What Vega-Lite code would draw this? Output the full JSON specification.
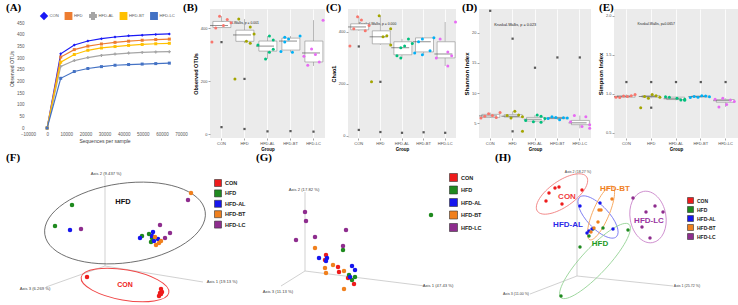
{
  "$schema": "https://vega.github.io/schema/vega-lite/v6.json",
  "padding": {"left": 3, "top": 2, "right": 0, "bottom": 0},
  "background": "#FFFFFF",
  "config": {
    "font": "Liberation Sans",
    "view": {"stroke": null},
    "title": {"font": "Liberation Serif", "fontSize": 11, "fontWeight": "bold", "anchor": "start", "frame": "group", "baseline": "middle", "offset": 0, "color": "#000000"},
    "legend": {"title": null}
  },
  "datasets": {
    "rare": [
      {"grp": "CON", "seq": 0, "otus": 0}, {"grp": "CON", "seq": 7100, "otus": 318}, {"grp": "CON", "seq": 14200, "otus": 356}, {"grp": "CON", "seq": 21300, "otus": 373}, {"grp": "CON", "seq": 28400, "otus": 383}, {"grp": "CON", "seq": 35500, "otus": 390}, {"grp": "CON", "seq": 42600, "otus": 395}, {"grp": "CON", "seq": 49700, "otus": 398}, {"grp": "CON", "seq": 56800, "otus": 401}, {"grp": "CON", "seq": 63900, "otus": 403},
      {"grp": "HFD", "seq": 0, "otus": 0}, {"grp": "HFD", "seq": 7100, "otus": 304}, {"grp": "HFD", "seq": 14200, "otus": 336}, {"grp": "HFD", "seq": 21300, "otus": 351}, {"grp": "HFD", "seq": 28400, "otus": 360}, {"grp": "HFD", "seq": 35500, "otus": 367}, {"grp": "HFD", "seq": 42600, "otus": 372}, {"grp": "HFD", "seq": 49700, "otus": 376}, {"grp": "HFD", "seq": 56800, "otus": 379}, {"grp": "HFD", "seq": 63900, "otus": 381},
      {"grp": "HFD-AL", "seq": 0, "otus": 0}, {"grp": "HFD-AL", "seq": 7100, "otus": 264}, {"grp": "HFD-AL", "seq": 14200, "otus": 289}, {"grp": "HFD-AL", "seq": 21300, "otus": 302}, {"grp": "HFD-AL", "seq": 28400, "otus": 311}, {"grp": "HFD-AL", "seq": 35500, "otus": 317}, {"grp": "HFD-AL", "seq": 42600, "otus": 321}, {"grp": "HFD-AL", "seq": 49700, "otus": 324}, {"grp": "HFD-AL", "seq": 56800, "otus": 326}, {"grp": "HFD-AL", "seq": 63900, "otus": 327},
      {"grp": "HFD-BT", "seq": 0, "otus": 0}, {"grp": "HFD-BT", "seq": 7100, "otus": 282}, {"grp": "HFD-BT", "seq": 14200, "otus": 315}, {"grp": "HFD-BT", "seq": 21300, "otus": 333}, {"grp": "HFD-BT", "seq": 28400, "otus": 343}, {"grp": "HFD-BT", "seq": 35500, "otus": 349}, {"grp": "HFD-BT", "seq": 42600, "otus": 354}, {"grp": "HFD-BT", "seq": 49700, "otus": 358}, {"grp": "HFD-BT", "seq": 56800, "otus": 361}, {"grp": "HFD-BT", "seq": 63900, "otus": 363},
      {"grp": "HFD-LC", "seq": 0, "otus": 0}, {"grp": "HFD-LC", "seq": 7100, "otus": 213}, {"grp": "HFD-LC", "seq": 14200, "otus": 242}, {"grp": "HFD-LC", "seq": 21300, "otus": 255}, {"grp": "HFD-LC", "seq": 28400, "otus": 263}, {"grp": "HFD-LC", "seq": 35500, "otus": 269}, {"grp": "HFD-LC", "seq": 42600, "otus": 272}, {"grp": "HFD-LC", "seq": 49700, "otus": 274}, {"grp": "HFD-LC", "seq": 56800, "otus": 276}, {"grp": "HFD-LC", "seq": 63900, "otus": 278}
    ],
    "box": [
      {"index": "OTU", "group": "CON", "lo": 400, "q1": 402, "med": 410, "q3": 425, "hi": 445},
      {"index": "OTU", "group": "HFD", "lo": 343, "q1": 350, "med": 374, "q3": 392, "hi": 434},
      {"index": "OTU", "group": "HFD-AL", "lo": 283, "q1": 313, "med": 332, "q3": 351, "hi": 370},
      {"index": "OTU", "group": "HFD-BT", "lo": 309, "q1": 317, "med": 351, "q3": 362, "hi": 370},
      {"index": "OTU", "group": "HFD-LC", "lo": 257, "q1": 272, "med": 306, "q3": 351, "hi": 430},
      {"index": "Chao1", "group": "CON", "lo": 404, "q1": 408, "med": 419, "q3": 431, "hi": 458},
      {"index": "Chao1", "group": "HFD", "lo": 350, "q1": 354, "med": 381, "q3": 404, "hi": 462},
      {"index": "Chao1", "group": "HFD-AL", "lo": 300, "q1": 312, "med": 339, "q3": 362, "hi": 373},
      {"index": "Chao1", "group": "HFD-BT", "lo": 312, "q1": 323, "med": 362, "q3": 377, "hi": 377},
      {"index": "Chao1", "group": "HFD-LC", "lo": 269, "q1": 300, "med": 315, "q3": 362, "hi": 438},
      {"index": "Shannon", "group": "CON", "lo": 5.9, "q1": 6.0, "med": 6.25, "q3": 6.5, "hi": 6.8},
      {"index": "Shannon", "group": "HFD", "lo": 5.9, "q1": 6.05, "med": 6.2, "q3": 6.45, "hi": 7.0},
      {"index": "Shannon", "group": "HFD-AL", "lo": 5.2, "q1": 5.4, "med": 5.7, "q3": 6.0, "hi": 6.4},
      {"index": "Shannon", "group": "HFD-BT", "lo": 5.6, "q1": 5.8, "med": 5.9, "q3": 6.0, "hi": 6.1},
      {"index": "Shannon", "group": "HFD-LC", "lo": 4.2, "q1": 4.8, "med": 5.1, "q3": 5.5, "hi": 6.3},
      {"index": "Simpson", "group": "CON", "lo": 0.95, "q1": 0.955, "med": 0.965, "q3": 0.975, "hi": 0.99},
      {"index": "Simpson", "group": "HFD", "lo": 0.94, "q1": 0.955, "med": 0.965, "q3": 0.975, "hi": 0.99},
      {"index": "Simpson", "group": "HFD-AL", "lo": 0.915, "q1": 0.925, "med": 0.935, "q3": 0.955, "hi": 0.96},
      {"index": "Simpson", "group": "HFD-BT", "lo": 0.95, "q1": 0.958, "med": 0.965, "q3": 0.97, "hi": 0.975},
      {"index": "Simpson", "group": "HFD-LC", "lo": 0.83, "q1": 0.89, "med": 0.91, "q3": 0.925, "hi": 0.94}
    ],
    "pts": [
      {"index": "OTU", "group": "CON", "sample": 3, "value": 445}, {"index": "OTU", "group": "CON", "sample": 5, "value": 432}, {"index": "OTU", "group": "CON", "sample": 6, "value": 420}, {"index": "OTU", "group": "CON", "sample": 4, "value": 410}, {"index": "OTU", "group": "CON", "sample": 2, "value": 400}, {"index": "OTU", "group": "CON", "sample": 1, "value": 347},
      {"index": "OTU", "group": "HFD", "sample": 2, "value": 434}, {"index": "OTU", "group": "HFD", "sample": 5, "value": 404}, {"index": "OTU", "group": "HFD", "sample": 6, "value": 378}, {"index": "OTU", "group": "HFD", "sample": 4, "value": 350}, {"index": "OTU", "group": "HFD", "sample": 5, "value": 343}, {"index": "OTU", "group": "HFD", "sample": 1, "value": 208},
      {"index": "OTU", "group": "HFD-AL", "sample": 4, "value": 370}, {"index": "OTU", "group": "HFD-AL", "sample": 5, "value": 355}, {"index": "OTU", "group": "HFD-AL", "sample": 1, "value": 336}, {"index": "OTU", "group": "HFD-AL", "sample": 5, "value": 320}, {"index": "OTU", "group": "HFD-AL", "sample": 4, "value": 309}, {"index": "OTU", "group": "HFD-AL", "sample": 3, "value": 283},
      {"index": "OTU", "group": "HFD-BT", "sample": 6, "value": 370}, {"index": "OTU", "group": "HFD-BT", "sample": 2, "value": 365}, {"index": "OTU", "group": "HFD-BT", "sample": 3, "value": 359}, {"index": "OTU", "group": "HFD-BT", "sample": 2, "value": 347}, {"index": "OTU", "group": "HFD-BT", "sample": 1, "value": 312}, {"index": "OTU", "group": "HFD-BT", "sample": 4, "value": 309},
      {"index": "OTU", "group": "HFD-LC", "sample": 6, "value": 430}, {"index": "OTU", "group": "HFD-LC", "sample": 3, "value": 321}, {"index": "OTU", "group": "HFD-LC", "sample": 4, "value": 300}, {"index": "OTU", "group": "HFD-LC", "sample": 1, "value": 294}, {"index": "OTU", "group": "HFD-LC", "sample": 5, "value": 272}, {"index": "OTU", "group": "HFD-LC", "sample": 2, "value": 260},
      {"index": "Chao1", "group": "CON", "sample": 3, "value": 458}, {"index": "Chao1", "group": "CON", "sample": 4, "value": 446}, {"index": "Chao1", "group": "CON", "sample": 6, "value": 425}, {"index": "Chao1", "group": "CON", "sample": 2, "value": 412}, {"index": "Chao1", "group": "CON", "sample": 5, "value": 404}, {"index": "Chao1", "group": "CON", "sample": 1, "value": 346},
      {"index": "Chao1", "group": "HFD", "sample": 3, "value": 462}, {"index": "Chao1", "group": "HFD", "sample": 6, "value": 412}, {"index": "Chao1", "group": "HFD", "sample": 5, "value": 385}, {"index": "Chao1", "group": "HFD", "sample": 4, "value": 381}, {"index": "Chao1", "group": "HFD", "sample": 6, "value": 350}, {"index": "Chao1", "group": "HFD", "sample": 1, "value": 208},
      {"index": "Chao1", "group": "HFD-AL", "sample": 5, "value": 373}, {"index": "Chao1", "group": "HFD-AL", "sample": 6, "value": 355}, {"index": "Chao1", "group": "HFD-AL", "sample": 4, "value": 346}, {"index": "Chao1", "group": "HFD-AL", "sample": 3, "value": 339}, {"index": "Chao1", "group": "HFD-AL", "sample": 2, "value": 308}, {"index": "Chao1", "group": "HFD-AL", "sample": 3, "value": 300},
      {"index": "Chao1", "group": "HFD-BT", "sample": 6, "value": 377}, {"index": "Chao1", "group": "HFD-BT", "sample": 3, "value": 373}, {"index": "Chao1", "group": "HFD-BT", "sample": 2, "value": 362}, {"index": "Chao1", "group": "HFD-BT", "sample": 5, "value": 327}, {"index": "Chao1", "group": "HFD-BT", "sample": 1, "value": 319}, {"index": "Chao1", "group": "HFD-BT", "sample": 3, "value": 312},
      {"index": "Chao1", "group": "HFD-LC", "sample": 6, "value": 438}, {"index": "Chao1", "group": "HFD-LC", "sample": 2, "value": 373}, {"index": "Chao1", "group": "HFD-LC", "sample": 4, "value": 323}, {"index": "Chao1", "group": "HFD-LC", "sample": 5, "value": 308}, {"index": "Chao1", "group": "HFD-LC", "sample": 1, "value": 300}, {"index": "Chao1", "group": "HFD-LC", "sample": 4, "value": 269},
      {"index": "Shannon", "group": "CON", "sample": 6, "value": 6.8}, {"index": "Shannon", "group": "CON", "sample": 3, "value": 6.6}, {"index": "Shannon", "group": "CON", "sample": 4, "value": 6.3}, {"index": "Shannon", "group": "CON", "sample": 2, "value": 6.2}, {"index": "Shannon", "group": "CON", "sample": 5, "value": 6.0}, {"index": "Shannon", "group": "CON", "sample": 1, "value": 5.9},
      {"index": "Shannon", "group": "HFD", "sample": 4, "value": 7.0}, {"index": "Shannon", "group": "HFD", "sample": 5, "value": 6.4}, {"index": "Shannon", "group": "HFD", "sample": 2, "value": 6.3}, {"index": "Shannon", "group": "HFD", "sample": 6, "value": 6.1}, {"index": "Shannon", "group": "HFD", "sample": 3, "value": 5.9}, {"index": "Shannon", "group": "HFD", "sample": 6, "value": 3.7},
      {"index": "Shannon", "group": "HFD-AL", "sample": 4, "value": 6.4}, {"index": "Shannon", "group": "HFD-AL", "sample": 5, "value": 6.2}, {"index": "Shannon", "group": "HFD-AL", "sample": 6, "value": 5.8}, {"index": "Shannon", "group": "HFD-AL", "sample": 1, "value": 5.5}, {"index": "Shannon", "group": "HFD-AL", "sample": 3, "value": 5.3}, {"index": "Shannon", "group": "HFD-AL", "sample": 5, "value": 5.2},
      {"index": "Shannon", "group": "HFD-BT", "sample": 2, "value": 6.1}, {"index": "Shannon", "group": "HFD-BT", "sample": 3, "value": 6.0}, {"index": "Shannon", "group": "HFD-BT", "sample": 5, "value": 5.95}, {"index": "Shannon", "group": "HFD-BT", "sample": 6, "value": 5.9}, {"index": "Shannon", "group": "HFD-BT", "sample": 1, "value": 5.8}, {"index": "Shannon", "group": "HFD-BT", "sample": 4, "value": 5.6},
      {"index": "Shannon", "group": "HFD-LC", "sample": 2, "value": 6.3}, {"index": "Shannon", "group": "HFD-LC", "sample": 5, "value": 6.1}, {"index": "Shannon", "group": "HFD-LC", "sample": 1, "value": 5.3}, {"index": "Shannon", "group": "HFD-LC", "sample": 6, "value": 4.8}, {"index": "Shannon", "group": "HFD-LC", "sample": 4, "value": 4.5}, {"index": "Shannon", "group": "HFD-LC", "sample": 6, "value": 4.2},
      {"index": "Simpson", "group": "CON", "sample": 6, "value": 0.99}, {"index": "Simpson", "group": "CON", "sample": 5, "value": 0.975}, {"index": "Simpson", "group": "CON", "sample": 3, "value": 0.97}, {"index": "Simpson", "group": "CON", "sample": 4, "value": 0.965}, {"index": "Simpson", "group": "CON", "sample": 1, "value": 0.955}, {"index": "Simpson", "group": "CON", "sample": 2, "value": 0.95},
      {"index": "Simpson", "group": "HFD", "sample": 4, "value": 0.99}, {"index": "Simpson", "group": "HFD", "sample": 5, "value": 0.975}, {"index": "Simpson", "group": "HFD", "sample": 2, "value": 0.965}, {"index": "Simpson", "group": "HFD", "sample": 6, "value": 0.955}, {"index": "Simpson", "group": "HFD", "sample": 3, "value": 0.94}, {"index": "Simpson", "group": "HFD", "sample": 1, "value": 0.82},
      {"index": "Simpson", "group": "HFD-AL", "sample": 1, "value": 0.96}, {"index": "Simpson", "group": "HFD-AL", "sample": 2, "value": 0.955}, {"index": "Simpson", "group": "HFD-AL", "sample": 4, "value": 0.94}, {"index": "Simpson", "group": "HFD-AL", "sample": 6, "value": 0.93}, {"index": "Simpson", "group": "HFD-AL", "sample": 5, "value": 0.92}, {"index": "Simpson", "group": "HFD-AL", "sample": 6, "value": 0.915},
      {"index": "Simpson", "group": "HFD-BT", "sample": 4, "value": 0.975}, {"index": "Simpson", "group": "HFD-BT", "sample": 5, "value": 0.97}, {"index": "Simpson", "group": "HFD-BT", "sample": 2, "value": 0.965}, {"index": "Simpson", "group": "HFD-BT", "sample": 6, "value": 0.96}, {"index": "Simpson", "group": "HFD-BT", "sample": 3, "value": 0.955}, {"index": "Simpson", "group": "HFD-BT", "sample": 1, "value": 0.95},
      {"index": "Simpson", "group": "HFD-LC", "sample": 3, "value": 0.94}, {"index": "Simpson", "group": "HFD-LC", "sample": 1, "value": 0.93}, {"index": "Simpson", "group": "HFD-LC", "sample": 5, "value": 0.92}, {"index": "Simpson", "group": "HFD-LC", "sample": 6, "value": 0.90}, {"index": "Simpson", "group": "HFD-LC", "sample": 4, "value": 0.86}, {"index": "Simpson", "group": "HFD-LC", "sample": 2, "value": 0.83}
    ],
    "outl": [
      {"index": "OTU", "group": "CON", "value": 347}, {"index": "OTU", "group": "CON", "value": 26}, {"index": "OTU", "group": "HFD", "value": 208}, {"index": "OTU", "group": "HFD", "value": 19}, {"index": "OTU", "group": "HFD-AL", "value": 10}, {"index": "OTU", "group": "HFD-BT", "value": 11}, {"index": "OTU", "group": "HFD-LC", "value": 9},
      {"index": "Chao1", "group": "CON", "value": 344}, {"index": "Chao1", "group": "CON", "value": 23}, {"index": "Chao1", "group": "HFD", "value": 208}, {"index": "Chao1", "group": "HFD", "value": 15}, {"index": "Chao1", "group": "HFD-AL", "value": 12}, {"index": "Chao1", "group": "HFD-BT", "value": 14}, {"index": "Chao1", "group": "HFD-LC", "value": 12},
      {"index": "Shannon", "group": "CON", "value": 23.6}, {"index": "Shannon", "group": "HFD", "value": 19.0}, {"index": "Shannon", "group": "HFD", "value": 3.7}, {"index": "Shannon", "group": "HFD-AL", "value": 14.2}, {"index": "Shannon", "group": "HFD-BT", "value": 15.9}, {"index": "Shannon", "group": "HFD-LC", "value": 15.9},
      {"index": "Simpson", "group": "CON", "value": 1.15}, {"index": "Simpson", "group": "HFD", "value": 1.15}, {"index": "Simpson", "group": "HFD", "value": 0.82}, {"index": "Simpson", "group": "HFD-AL", "value": 1.15}, {"index": "Simpson", "group": "HFD-BT", "value": 1.15}, {"index": "Simpson", "group": "HFD-LC", "value": 1.15}
    ],
    "pF": [
      {"grp": "CON", "x": 84, "y": 27}, {"grp": "CON", "x": 158, "y": 15}, {"grp": "CON", "x": 159, "y": 12}, {"grp": "CON", "x": 157, "y": 11}, {"grp": "CON", "x": 156, "y": 8}, {"grp": "CON", "x": 158, "y": 10},
      {"grp": "HFD", "x": 69, "y": 99}, {"grp": "HFD", "x": 52, "y": 78}, {"grp": "HFD", "x": 139, "y": 68}, {"grp": "HFD", "x": 146, "y": 70}, {"grp": "HFD", "x": 149, "y": 66}, {"grp": "HFD", "x": 148, "y": 62},
      {"grp": "HFD-AL", "x": 67, "y": 74}, {"grp": "HFD-AL", "x": 137, "y": 66}, {"grp": "HFD-AL", "x": 150, "y": 72}, {"grp": "HFD-AL", "x": 149, "y": 68}, {"grp": "HFD-AL", "x": 155, "y": 65}, {"grp": "HFD-AL", "x": 151, "y": 63},
      {"grp": "HFD-BT", "x": 188, "y": 111}, {"grp": "HFD-BT", "x": 152, "y": 67}, {"grp": "HFD-BT", "x": 158, "y": 63}, {"grp": "HFD-BT", "x": 156, "y": 61}, {"grp": "HFD-BT", "x": 153, "y": 59},
      {"grp": "HFD-LC", "x": 78, "y": 75}, {"grp": "HFD-LC", "x": 185, "y": 104}, {"grp": "HFD-LC", "x": 157, "y": 79}, {"grp": "HFD-LC", "x": 162, "y": 66}, {"grp": "HFD-LC", "x": 167, "y": 71}
    ],
    "axF": [
      {"x": 102, "y": 38, "x2": 102, "y2": 128}, {"x": 102, "y": 38, "x2": 200, "y2": 22}, {"x": 102, "y": 38, "x2": 43, "y2": 17}
    ],
    "alF": [
      {"label": "Axis 2 (9.437 %)", "x": 103, "y": 130}, {"label": "Axis 1 (19.13 %)", "x": 219, "y": 22}, {"label": "Axis 3 (6.269 %)", "x": 32, "y": 15}
    ],
    "lblF": [
      {"label": "HFD", "x": 120, "y": 102}, {"label": "CON", "x": 122, "y": 19}
    ],
    "pG": [
      {"grp": "CON", "x": 83, "y": 49}, {"grp": "CON", "x": 82, "y": 44}, {"grp": "CON", "x": 95, "y": 37}, {"grp": "CON", "x": 96, "y": 32}, {"grp": "CON", "x": 105, "y": 26}, {"grp": "CON", "x": 111, "y": 20},
      {"grp": "HFD", "x": 100, "y": 54}, {"grp": "HFD", "x": 106, "y": 29}, {"grp": "HFD", "x": 112, "y": 27}, {"grp": "HFD", "x": 109, "y": 24}, {"grp": "HFD", "x": 188, "y": 89},
      {"grp": "HFD-AL", "x": 76, "y": 46}, {"grp": "HFD-AL", "x": 84, "y": 46}, {"grp": "HFD-AL", "x": 83, "y": 43}, {"grp": "HFD-AL", "x": 109, "y": 38}, {"grp": "HFD-AL", "x": 112, "y": 34}, {"grp": "HFD-AL", "x": 107, "y": 27},
      {"grp": "HFD-BT", "x": 72, "y": 56}, {"grp": "HFD-BT", "x": 90, "y": 39}, {"grp": "HFD-BT", "x": 82, "y": 36}, {"grp": "HFD-BT", "x": 83, "y": 31}, {"grp": "HFD-BT", "x": 101, "y": 33}, {"grp": "HFD-BT", "x": 101, "y": 15},
      {"grp": "HFD-LC", "x": 62, "y": 92}, {"grp": "HFD-LC", "x": 63, "y": 83}, {"grp": "HFD-LC", "x": 53, "y": 64}, {"grp": "HFD-LC", "x": 72, "y": 67}, {"grp": "HFD-LC", "x": 103, "y": 74}, {"grp": "HFD-LC", "x": 100, "y": 58}
    ],
    "axG": [
      {"x": 62, "y": 33, "x2": 62, "y2": 112}, {"x": 62, "y": 33, "x2": 182, "y2": 18}, {"x": 62, "y": 33, "x2": 38, "y2": 18}
    ],
    "alG": [
      {"label": "Axis 2 (17.82 %)", "x": 61, "y": 114}, {"label": "Axis 1 (47.43 %)", "x": 195, "y": 18}, {"label": "Axis 3 (11.13 %)", "x": 35, "y": 12}
    ],
    "pH": [
      {"grp": "CON", "x": 72, "y": 116}, {"grp": "CON", "x": 76, "y": 117}, {"grp": "CON", "x": 66, "y": 111}, {"grp": "CON", "x": 99, "y": 114}, {"grp": "CON", "x": 63, "y": 103}, {"grp": "CON", "x": 79, "y": 100},
      {"grp": "HFD", "x": 110, "y": 75}, {"grp": "HFD", "x": 106, "y": 68}, {"grp": "HFD", "x": 145, "y": 74}, {"grp": "HFD", "x": 97, "y": 57}, {"grp": "HFD", "x": 78, "y": 8}, {"grp": "HFD", "x": 120, "y": 76},
      {"grp": "HFD-AL", "x": 117, "y": 101}, {"grp": "HFD-AL", "x": 97, "y": 98}, {"grp": "HFD-AL", "x": 109, "y": 75}, {"grp": "HFD-AL", "x": 130, "y": 75}, {"grp": "HFD-AL", "x": 104, "y": 71}, {"grp": "HFD-AL", "x": 106, "y": 73},
      {"grp": "HFD-BT", "x": 129, "y": 105}, {"grp": "HFD-BT", "x": 116, "y": 94}, {"grp": "HFD-BT", "x": 118, "y": 94}, {"grp": "HFD-BT", "x": 115, "y": 82}, {"grp": "HFD-BT", "x": 108, "y": 72}, {"grp": "HFD-BT", "x": 111, "y": 76},
      {"grp": "HFD-LC", "x": 150, "y": 106}, {"grp": "HFD-LC", "x": 172, "y": 98}, {"grp": "HFD-LC", "x": 163, "y": 92}, {"grp": "HFD-LC", "x": 180, "y": 92}, {"grp": "HFD-LC", "x": 159, "y": 77}, {"grp": "HFD-LC", "x": 167, "y": 66}
    ],
    "axH": [
      {"x": 94, "y": 28, "x2": 94, "y2": 130}, {"x": 94, "y": 28, "x2": 190, "y2": 18}, {"x": 94, "y": 28, "x2": 47, "y2": 10}
    ],
    "alH": [
      {"label": "Axis 2 (18.27 %)", "x": 95, "y": 132}, {"label": "Axis 1 (25.72 %)", "x": 204, "y": 18}, {"label": "Axis 3 (11.00 %)", "x": 33, "y": 10}
    ],
    "lblH": [
      {"label": "CON", "x": 84, "y": 107}, {"label": "HFD-BT", "x": 132, "y": 115}, {"label": "HFD-AL", "x": 85, "y": 79}, {"label": "HFD", "x": 117, "y": 60}, {"label": "HFD-LC", "x": 166, "y": 83}
    ]
  },
  "spacing": 0,
  "resolve": {"scale": {"color": "independent"}, "legend": {"color": "independent"}},
  "vconcat": [
    {
      "bounds": "flush",
      "spacing": 23,
      "resolve": {"scale": {"color": "independent", "shape": "independent"}, "legend": {"color": "independent", "shape": "independent"}},
      "hconcat": [
        {
          "width": 184,
          "height": 119,
          "title": {"text": "(A)", "dx": 3, "dy": 8},
          "encoding": {
            "x": {"field": "seq", "type": "quantitative", "scale": {"domain": [-23072, 73137], "nice": false, "zero": false},
              "axis": {"values": [-10000, 0, 10000, 20000, 30000, 40000, 50000, 60000, 70000], "format": "d", "domain": false, "grid": false, "ticks": false, "labelFontSize": 4.5, "labelColor": "#595959", "labelPadding": 3, "title": "Sequences per sample", "titleFontSize": 5, "titleFontWeight": "normal", "titleColor": "#404040", "titleX": 101.5, "titlePadding": 3}},
            "y": {"field": "otus", "type": "quantitative", "scale": {"domain": [0, 510], "nice": false, "zero": false},
              "axis": {"values": [0, 50, 100, 150, 200, 250, 300, 350, 400, 450], "domain": false, "grid": false, "ticks": false, "offset": -25, "labelFontSize": 4.5, "labelColor": "#595959", "labelPadding": 4, "title": "Observed OTUs", "titleFontSize": 5, "titleFontWeight": "normal", "titleColor": "#404040", "titlePadding": 2}}
          },
          "layer": [
            {"data": {"values": [{}]}, "mark": {"type": "rule", "color": "#BFBFBF", "strokeWidth": 0.7}, "encoding": {"x": {"datum": -10000}, "x2": {"datum": 70000}, "y": {"datum": 0}}},
            {"data": {"values": [{}]}, "mark": {"type": "rule", "color": "#BFBFBF", "strokeWidth": 0.7}, "encoding": {"x": {"datum": 0}, "y": {"datum": 0}, "y2": {"datum": 450}}},
            {"data": {"name": "rare"}, "mark": {"type": "line", "strokeWidth": 1.2},
              "encoding": {"color": {"field": "grp", "type": "nominal", "scale": {"domain": ["CON", "HFD", "HFD-AL", "HFD-BT", "HFD-LC"], "range": ["#1A1AF5", "#ED7D31", "#A5A5A5", "#FFC000", "#4472C4"]},
                "legend": {"orient": "none", "legendX": 37, "legendY": 3, "direction": "horizontal", "gridAlign": "none", "symbolType": "stroke", "symbolSize": 40, "symbolStrokeWidth": 1.5, "labelFontSize": 4.2, "labelColor": "#595959", "labelOffset": 1.5, "columnPadding": 2.5, "title": null}}}},
            {"data": {"name": "rare"}, "mark": {"type": "point", "filled": true, "size": 9, "opacity": 1},
              "encoding": {"color": {"field": "grp", "type": "nominal", "legend": null},
                "shape": {"field": "grp", "type": "nominal", "scale": {"domain": ["CON", "HFD", "HFD-AL", "HFD-BT", "HFD-LC"], "range": ["diamond", "square", "cross", "square", "square"]}, "legend": null}}}
          ]
        },
        {
          "width": 115,
          "height": 129,
          "view": {"fill": "#EBEBEB", "stroke": null},
          "title": {"text": "(B)", "dx": -27, "dy": 8},
          "encoding": {"x": {"field": "group", "type": "nominal", "title": "Group", "scale": {"domain": ["CON", "HFD", "HFD-AL", "HFD-BT", "HFD-LC"], "paddingInner": 0, "paddingOuter": 0},
            "axis": {"labelAngle": 0, "labelFontSize": 4, "labelColor": "#4D4D4D", "labelPadding": 1, "tickSize": 2, "tickColor": "#4D4D4D", "tickWidth": 0.5, "domain": false, "grid": true, "gridColor": "#FFFFFF", "gridWidth": 0.8, "bandPosition": 0.5, "titleFontSize": 4.5, "titleFontWeight": "bold", "titleColor": "#000000", "titlePadding": 1}}},
          "layer": [
            {"data": {"values": [{}]}, "mark": {"type": "text", "align": "left", "baseline": "middle", "fontSize": 3.4, "color": "#1A1A1A"},
              "encoding": {"x": {"datum": "CON"}, "y": {"datum": 419, "type": "quantitative", "title": "Observed OTUs"}, "text": {"value": "Kruskal-Wallis, p = 0.001"}}},
            {"data": {"name": "box"}, "transform": [{"filter": "datum.index === 'OTU'"}], "mark": {"type": "rule", "color": "#8C8C8C", "strokeWidth": 0.6},
              "encoding": {"y": {"field": "lo", "type": "quantitative", "title": "Observed OTUs", "scale": {"domain": [-15, 472], "nice": false, "zero": false},
                "axis": {"values": [0, 50, 100, 150, 200, 250, 300, 350, 400, 450], "labelExpr": "datum.value % 100 === 0 ? datum.label : ''", "gridColor": "#FFFFFF", "gridWidth": {"condition": {"test": "datum.value % 100 === 0", "value": 0.8}, "value": 0.35}, "tickOpacity": {"condition": {"test": "datum.value % 100 === 0", "value": 1}, "value": 0}, "tickSize": 2, "tickColor": "#4D4D4D", "tickWidth": 0.5, "domain": false, "labelFontSize": 4, "labelColor": "#4D4D4D", "labelPadding": 1, "titleFontSize": 5.5, "titleFontWeight": "bold", "titleColor": "#000000", "titlePadding": 2}},
                "y2": {"field": "q1"}}},
            {"data": {"name": "box"}, "transform": [{"filter": "datum.index === 'OTU'"}], "mark": {"type": "rule", "color": "#8C8C8C", "strokeWidth": 0.6},
              "encoding": {"y": {"field": "q3", "type": "quantitative", "title": "Observed OTUs"}, "y2": {"field": "hi"}}},
            {"data": {"name": "box"}, "transform": [{"filter": "datum.index === 'OTU'"}], "mark": {"type": "bar", "width": {"band": 0.75}, "fill": "#FFFFFF", "stroke": "#8C8C8C", "strokeWidth": 0.6},
              "encoding": {"y": {"field": "q1", "type": "quantitative", "title": "Observed OTUs"}, "y2": {"field": "q3"}}},
            {"data": {"name": "box"}, "transform": [{"filter": "datum.index === 'OTU'"}], "mark": {"type": "tick", "color": "#4D4D4D", "thickness": 0.9},
              "encoding": {"y": {"field": "med", "type": "quantitative", "title": "Observed OTUs"}}},
            {"data": {"name": "outl"}, "transform": [{"filter": "datum.index === 'OTU'"}], "mark": {"type": "point", "shape": "square", "filled": true, "size": 5, "color": "#595959", "opacity": 1},
              "encoding": {"y": {"field": "value", "type": "quantitative", "title": "Observed OTUs"}}},
            {"data": {"name": "pts"}, "transform": [{"filter": "datum.index === 'OTU'"}], "mark": {"type": "circle", "size": 9, "opacity": 1},
              "encoding": {"y": {"field": "value", "type": "quantitative", "title": "Observed OTUs"}, "xOffset": {"field": "sample", "type": "ordinal", "scale": {"paddingOuter": 0.5}},
                "color": {"field": "group", "type": "nominal", "scale": {"domain": ["CON", "HFD", "HFD-AL", "HFD-BT", "HFD-LC"], "range": ["#F8766D", "#A3A500", "#00BF7D", "#00B0F6", "#E76BF3"]}, "legend": null}}}
          ]
        },
        {
          "width": 108,
          "height": 129,
          "view": {"fill": "#EBEBEB", "stroke": null},
          "title": {"text": "(C)", "dx": -22, "dy": 8},
          "encoding": {"x": {"field": "group", "type": "nominal", "title": "Group", "scale": {"domain": ["CON", "HFD", "HFD-AL", "HFD-BT", "HFD-LC"], "paddingInner": 0, "paddingOuter": 0},
            "axis": {"labelAngle": 0, "labelFontSize": 4, "labelColor": "#4D4D4D", "labelPadding": 1, "tickSize": 2, "tickColor": "#4D4D4D", "tickWidth": 0.5, "domain": false, "grid": true, "gridColor": "#FFFFFF", "gridWidth": 0.8, "bandPosition": 0.5, "titleFontSize": 4.5, "titleFontWeight": "bold", "titleColor": "#000000", "titlePadding": 1}}},
          "layer": [
            {"data": {"values": [{}]}, "mark": {"type": "text", "align": "left", "baseline": "middle", "fontSize": 3.4, "color": "#1A1A1A"},
              "encoding": {"x": {"datum": "CON"}, "y": {"datum": 431, "type": "quantitative", "title": "Chao1"}, "text": {"value": "Kruskal-Wallis, p = 0.000"}}},
            {"data": {"name": "box"}, "transform": [{"filter": "datum.index === 'Chao1'"}], "mark": {"type": "rule", "color": "#8C8C8C", "strokeWidth": 0.6},
              "encoding": {"y": {"field": "lo", "type": "quantitative", "title": "Chao1", "scale": {"domain": [-8, 488], "nice": false, "zero": false},
                "axis": {"values": [0, 50, 100, 150, 200, 250, 300, 350, 400, 450], "labelExpr": "datum.value % 100 === 0 ? datum.label : ''", "gridColor": "#FFFFFF", "gridWidth": {"condition": {"test": "datum.value % 100 === 0", "value": 0.8}, "value": 0.35}, "tickOpacity": {"condition": {"test": "datum.value % 100 === 0", "value": 1}, "value": 0}, "tickSize": 2, "tickColor": "#4D4D4D", "tickWidth": 0.5, "domain": false, "labelFontSize": 4, "labelColor": "#4D4D4D", "labelPadding": 1, "titleFontSize": 5.5, "titleFontWeight": "bold", "titleColor": "#000000", "titlePadding": 2}},
                "y2": {"field": "q1"}}},
            {"data": {"name": "box"}, "transform": [{"filter": "datum.index === 'Chao1'"}], "mark": {"type": "rule", "color": "#8C8C8C", "strokeWidth": 0.6},
              "encoding": {"y": {"field": "q3", "type": "quantitative", "title": "Chao1"}, "y2": {"field": "hi"}}},
            {"data": {"name": "box"}, "transform": [{"filter": "datum.index === 'Chao1'"}], "mark": {"type": "bar", "width": {"band": 0.75}, "fill": "#FFFFFF", "stroke": "#8C8C8C", "strokeWidth": 0.6},
              "encoding": {"y": {"field": "q1", "type": "quantitative", "title": "Chao1"}, "y2": {"field": "q3"}}},
            {"data": {"name": "box"}, "transform": [{"filter": "datum.index === 'Chao1'"}], "mark": {"type": "tick", "color": "#4D4D4D", "thickness": 0.9},
              "encoding": {"y": {"field": "med", "type": "quantitative", "title": "Chao1"}}},
            {"data": {"name": "outl"}, "transform": [{"filter": "datum.index === 'Chao1'"}], "mark": {"type": "point", "shape": "square", "filled": true, "size": 5, "color": "#595959", "opacity": 1},
              "encoding": {"y": {"field": "value", "type": "quantitative", "title": "Chao1"}}},
            {"data": {"name": "pts"}, "transform": [{"filter": "datum.index === 'Chao1'"}], "mark": {"type": "circle", "size": 9, "opacity": 1},
              "encoding": {"y": {"field": "value", "type": "quantitative", "title": "Chao1"}, "xOffset": {"field": "sample", "type": "ordinal", "scale": {"paddingOuter": 0.5}},
                "color": {"field": "group", "type": "nominal", "scale": {"domain": ["CON", "HFD", "HFD-AL", "HFD-BT", "HFD-LC"], "range": ["#F8766D", "#A3A500", "#00BF7D", "#00B0F6", "#E76BF3"]}, "legend": null}}}
          ]
        },
        {
          "width": 112,
          "height": 129,
          "view": {"fill": "#EBEBEB", "stroke": null},
          "title": {"text": "(D)", "dx": -17, "dy": 8},
          "encoding": {"x": {"field": "group", "type": "nominal", "title": "Group", "scale": {"domain": ["CON", "HFD", "HFD-AL", "HFD-BT", "HFD-LC"], "paddingInner": 0, "paddingOuter": 0},
            "axis": {"labelAngle": 0, "labelFontSize": 4, "labelColor": "#4D4D4D", "labelPadding": 1, "tickSize": 2, "tickColor": "#4D4D4D", "tickWidth": 0.5, "domain": false, "grid": true, "gridColor": "#FFFFFF", "gridWidth": 0.8, "bandPosition": 0.5, "titleFontSize": 4.5, "titleFontWeight": "bold", "titleColor": "#000000", "titlePadding": 1}}},
          "layer": [
            {"data": {"values": [{}]}, "mark": {"type": "text", "align": "left", "baseline": "middle", "fontSize": 3.8, "color": "#1A1A1A", "dx": 4},
              "encoding": {"x": {"datum": "CON"}, "y": {"datum": 21.3, "type": "quantitative", "title": "Shannon Index"}, "text": {"value": "Kruskal-Wallis, p = 0.023"}}},
            {"data": {"name": "box"}, "transform": [{"filter": "datum.index === 'Shannon'"}], "mark": {"type": "rule", "color": "#8C8C8C", "strokeWidth": 0.6},
              "encoding": {"y": {"field": "lo", "type": "quantitative", "title": "Shannon Index", "scale": {"domain": [2.6, 23.9], "nice": false, "zero": false},
                "axis": {"values": [5, 7.5, 10, 12.5, 15, 17.5, 20, 22.5], "labelExpr": "datum.value % 5 === 0 ? datum.label : ''", "gridColor": "#FFFFFF", "gridWidth": {"condition": {"test": "datum.value % 5 === 0", "value": 0.8}, "value": 0.35}, "tickOpacity": {"condition": {"test": "datum.value % 5 === 0", "value": 1}, "value": 0}, "tickSize": 2, "tickColor": "#4D4D4D", "tickWidth": 0.5, "domain": false, "labelFontSize": 4, "labelColor": "#4D4D4D", "labelPadding": 1, "titleFontSize": 6, "titleFontWeight": "bold", "titleColor": "#000000", "titlePadding": 2}},
                "y2": {"field": "q1"}}},
            {"data": {"name": "box"}, "transform": [{"filter": "datum.index === 'Shannon'"}], "mark": {"type": "rule", "color": "#8C8C8C", "strokeWidth": 0.6},
              "encoding": {"y": {"field": "q3", "type": "quantitative", "title": "Shannon Index"}, "y2": {"field": "hi"}}},
            {"data": {"name": "box"}, "transform": [{"filter": "datum.index === 'Shannon'"}], "mark": {"type": "bar", "width": {"band": 0.75}, "fill": "#FFFFFF", "stroke": "#8C8C8C", "strokeWidth": 0.6},
              "encoding": {"y": {"field": "q1", "type": "quantitative", "title": "Shannon Index"}, "y2": {"field": "q3"}}},
            {"data": {"name": "box"}, "transform": [{"filter": "datum.index === 'Shannon'"}], "mark": {"type": "tick", "color": "#4D4D4D", "thickness": 0.9},
              "encoding": {"y": {"field": "med", "type": "quantitative", "title": "Shannon Index"}}},
            {"data": {"name": "outl"}, "transform": [{"filter": "datum.index === 'Shannon'"}], "mark": {"type": "point", "shape": "square", "filled": true, "size": 5, "color": "#595959", "opacity": 1},
              "encoding": {"y": {"field": "value", "type": "quantitative", "title": "Shannon Index"}}},
            {"data": {"name": "pts"}, "transform": [{"filter": "datum.index === 'Shannon'"}], "mark": {"type": "circle", "size": 9, "opacity": 1},
              "encoding": {"y": {"field": "value", "type": "quantitative", "title": "Shannon Index"}, "xOffset": {"field": "sample", "type": "ordinal", "scale": {"paddingOuter": 0.5}},
                "color": {"field": "group", "type": "nominal", "scale": {"domain": ["CON", "HFD", "HFD-AL", "HFD-BT", "HFD-LC"], "range": ["#F8766D", "#A3A500", "#00BF7D", "#00B0F6", "#E76BF3"]}, "legend": null}}}
          ]
        },
        {
          "width": 124,
          "height": 129,
          "view": {"fill": "#EBEBEB", "stroke": null},
          "title": {"text": "(E)", "dx": -15, "dy": 8},
          "encoding": {"x": {"field": "group", "type": "nominal", "title": "Group", "scale": {"domain": ["CON", "HFD", "HFD-AL", "HFD-BT", "HFD-LC"], "paddingInner": 0, "paddingOuter": 0},
            "axis": {"labelAngle": 0, "labelFontSize": 4, "labelColor": "#4D4D4D", "labelPadding": 1, "tickSize": 2, "tickColor": "#4D4D4D", "tickWidth": 0.5, "domain": false, "grid": true, "gridColor": "#FFFFFF", "gridWidth": 0.8, "bandPosition": 0.5, "titleFontSize": 4.5, "titleFontWeight": "bold", "titleColor": "#000000", "titlePadding": 1}}},
          "layer": [
            {"data": {"values": [{}]}, "mark": {"type": "text", "align": "left", "baseline": "middle", "fontSize": 3.4, "color": "#1A1A1A", "dx": 11},
              "encoding": {"x": {"datum": "CON"}, "y": {"datum": 1.9, "type": "quantitative", "title": "Simpson Index"}, "text": {"value": "Kruskal-Wallis, p=0.0657"}}},
            {"data": {"name": "box"}, "transform": [{"filter": "datum.index === 'Simpson'"}], "mark": {"type": "rule", "color": "#8C8C8C", "strokeWidth": 0.6},
              "encoding": {"y": {"field": "lo", "type": "quantitative", "title": "Simpson Index", "scale": {"domain": [0.43, 2.09], "nice": false, "zero": false},
                "axis": {"values": [0.5, 0.75, 1, 1.25, 1.5, 1.75, 2], "format": ".1f", "labelExpr": "indexof([0.5, 1, 1.5, 2], datum.value) >= 0 ? datum.label : ''", "gridColor": "#FFFFFF", "gridWidth": {"condition": {"test": "indexof([0.5, 1, 1.5, 2], datum.value) >= 0", "value": 0.8}, "value": 0.35}, "tickOpacity": {"condition": {"test": "indexof([0.5, 1, 1.5, 2], datum.value) >= 0", "value": 1}, "value": 0}, "tickSize": 2, "tickColor": "#4D4D4D", "tickWidth": 0.5, "domain": false, "labelFontSize": 4, "labelColor": "#4D4D4D", "labelPadding": 1, "titleFontSize": 6, "titleFontWeight": "bold", "titleColor": "#000000", "titlePadding": 2}},
                "y2": {"field": "q1"}}},
            {"data": {"name": "box"}, "transform": [{"filter": "datum.index === 'Simpson'"}], "mark": {"type": "rule", "color": "#8C8C8C", "strokeWidth": 0.6},
              "encoding": {"y": {"field": "q3", "type": "quantitative", "title": "Simpson Index"}, "y2": {"field": "hi"}}},
            {"data": {"name": "box"}, "transform": [{"filter": "datum.index === 'Simpson'"}], "mark": {"type": "bar", "width": {"band": 0.75}, "fill": "#FFFFFF", "stroke": "#8C8C8C", "strokeWidth": 0.6},
              "encoding": {"y": {"field": "q1", "type": "quantitative", "title": "Simpson Index"}, "y2": {"field": "q3"}}},
            {"data": {"name": "box"}, "transform": [{"filter": "datum.index === 'Simpson'"}], "mark": {"type": "tick", "color": "#4D4D4D", "thickness": 0.9},
              "encoding": {"y": {"field": "med", "type": "quantitative", "title": "Simpson Index"}}},
            {"data": {"name": "outl"}, "transform": [{"filter": "datum.index === 'Simpson'"}], "mark": {"type": "point", "shape": "square", "filled": true, "size": 5, "color": "#595959", "opacity": 1},
              "encoding": {"y": {"field": "value", "type": "quantitative", "title": "Simpson Index"}}},
            {"data": {"name": "pts"}, "transform": [{"filter": "datum.index === 'Simpson'"}], "mark": {"type": "circle", "size": 9, "opacity": 1},
              "encoding": {"y": {"field": "value", "type": "quantitative", "title": "Simpson Index"}, "xOffset": {"field": "sample", "type": "ordinal", "scale": {"paddingOuter": 0.5}},
                "color": {"field": "group", "type": "nominal", "scale": {"domain": ["CON", "HFD", "HFD-AL", "HFD-BT", "HFD-LC"], "range": ["#F8766D", "#A3A500", "#00BF7D", "#00B0F6", "#E76BF3"]}, "legend": null}}}
          ]
        }
      ]
    },
    {
      "bounds": "flush",
      "spacing": 0,
      "resolve": {"scale": {"color": "independent"}, "legend": {"color": "independent"}},
      "hconcat": [
        {
          "width": 240,
          "height": 153,
          "title": {"text": "(F)", "dx": 3, "dy": 16},
          "encoding": {
            "x": {"field": "x", "type": "quantitative", "scale": {"domain": [0, 240], "nice": false, "zero": false}, "axis": null},
            "y": {"field": "y", "type": "quantitative", "scale": {"domain": [0, 153], "nice": false, "zero": false}, "axis": null}
          },
          "layer": [
            {"data": {"name": "axF"}, "mark": {"type": "rule", "color": "#BDBDBD", "strokeWidth": 0.7}, "encoding": {"x2": {"field": "x2"}, "y2": {"field": "y2"}}},
            {"data": {"name": "alF"}, "mark": {"type": "text", "fontSize": 4.2, "color": "#404040"}, "encoding": {"text": {"field": "label"}}},
            {"data": {"values": [{"x": 122, "y": 81}]}, "mark": {"type": "point", "shape": "M -1 0 A 1 0.49 0 1 1 1 0 A 1 0.49 0 1 1 -1 0 Z", "size": 26244, "angle": 352, "filled": false, "color": "#555555", "strokeWidth": 0.8, "opacity": 1}},
            {"data": {"values": [{"x": 122, "y": 19}]}, "mark": {"type": "point", "shape": "M -1 0 A 1 0.34 0 1 1 1 0 A 1 0.34 0 1 1 -1 0 Z", "size": 7921, "angle": 10, "filled": false, "color": "#F04848", "strokeWidth": 1, "opacity": 1}},
            {"data": {"name": "pF"}, "mark": {"type": "circle", "size": 20, "opacity": 1},
              "encoding": {"color": {"field": "grp", "type": "nominal", "scale": {"domain": ["CON", "HFD", "HFD-AL", "HFD-BT", "HFD-LC"], "range": ["#EE1C1C", "#1F8A1F", "#1616EE", "#F0801E", "#8E2D8E"]},
                "legend": {"orient": "none", "legendX": 211, "legendY": 28, "symbolType": "square", "symbolSize": 49, "symbolStrokeColor": "#333333", "symbolStrokeWidth": 0.6, "symbolOpacity": 1, "labelFontSize": 5.5, "labelFontWeight": "bold", "labelColor": "#222222", "labelOffset": 3, "rowPadding": 0.4, "title": null}}}},
            {"data": {"name": "lblF"}, "transform": [{"filter": "datum.label === 'HFD'"}], "mark": {"type": "text", "fontSize": 7.5, "fontWeight": "bold", "color": "#111111"}, "encoding": {"text": {"field": "label"}}},
            {"data": {"name": "lblF"}, "transform": [{"filter": "datum.label === 'CON'"}], "mark": {"type": "text", "fontSize": 7, "fontWeight": "bold", "color": "#EE2222"}, "encoding": {"text": {"field": "label"}}}
          ]
        },
        {
          "width": 240,
          "height": 153,
          "title": {"text": "(G)", "dx": 13, "dy": 16},
          "encoding": {
            "x": {"field": "x", "type": "quantitative", "scale": {"domain": [0, 240], "nice": false, "zero": false}, "axis": null},
            "y": {"field": "y", "type": "quantitative", "scale": {"domain": [0, 153], "nice": false, "zero": false}, "axis": null}
          },
          "layer": [
            {"data": {"name": "axG"}, "mark": {"type": "rule", "color": "#BDBDBD", "strokeWidth": 0.7}, "encoding": {"x2": {"field": "x2"}, "y2": {"field": "y2"}}},
            {"data": {"name": "alG"}, "mark": {"type": "text", "fontSize": 4.2, "color": "#404040"}, "encoding": {"text": {"field": "label"}}},
            {"data": {"name": "pG"}, "mark": {"type": "circle", "size": 20, "opacity": 1},
              "encoding": {"color": {"field": "grp", "type": "nominal", "scale": {"domain": ["CON", "HFD", "HFD-AL", "HFD-BT", "HFD-LC"], "range": ["#EE1C1C", "#1F8A1F", "#1616EE", "#F0801E", "#8E2D8E"]},
                "legend": {"orient": "none", "legendX": 206, "legendY": 22, "symbolType": "square", "symbolSize": 64, "symbolStrokeColor": "#333333", "symbolStrokeWidth": 0.6, "symbolOpacity": 1, "labelFontSize": 5.5, "labelFontWeight": "bold", "labelColor": "#222222", "labelOffset": 3, "rowPadding": 1.5, "title": null}}}}
          ]
        },
        {
          "width": 258,
          "height": 153,
          "title": {"text": "(H)", "dx": 12, "dy": 16},
          "encoding": {
            "x": {"field": "x", "type": "quantitative", "scale": {"domain": [0, 258], "nice": false, "zero": false}, "axis": null},
            "y": {"field": "y", "type": "quantitative", "scale": {"domain": [0, 153], "nice": false, "zero": false}, "axis": null}
          },
          "layer": [
            {"data": {"name": "axH"}, "mark": {"type": "rule", "color": "#BDBDBD", "strokeWidth": 0.7}, "encoding": {"x2": {"field": "x2"}, "y2": {"field": "y2"}}},
            {"data": {"name": "alH"}, "mark": {"type": "text", "fontSize": 3.6, "color": "#404040"}, "encoding": {"text": {"field": "label"}}},
            {"data": {"values": [{"x": 79, "y": 110}]}, "mark": {"type": "point", "shape": "M -1 0 A 1 0.43 0 1 1 1 0 A 1 0.43 0 1 1 -1 0 Z", "size": 3600, "angle": 325, "filled": false, "color": "#F07A7A", "strokeWidth": 0.8, "opacity": 1}},
            {"data": {"values": [{"x": 115, "y": 87}]}, "mark": {"type": "point", "shape": "M -1 0 A 1 0.41 0 1 1 1 0 A 1 0.41 0 1 1 -1 0 Z", "size": 2916, "angle": 47, "filled": false, "color": "#6A6AF0", "strokeWidth": 0.8, "opacity": 1}},
            {"data": {"values": [{"x": 118, "y": 91}]}, "mark": {"type": "point", "shape": "M -1 0 A 1 0.28 0 1 1 1 0 A 1 0.28 0 1 1 -1 0 Z", "size": 3364, "angle": 293, "filled": false, "color": "#F5A050", "strokeWidth": 0.8, "opacity": 1}},
            {"data": {"values": [{"x": 112, "y": 43}]}, "mark": {"type": "point", "shape": "M -1 0 A 1 0.26 0 1 1 1 0 A 1 0.26 0 1 1 -1 0 Z", "size": 10000, "angle": 313, "filled": false, "color": "#8FD08F", "strokeWidth": 0.8, "opacity": 1}},
            {"data": {"values": [{"x": 165, "y": 87}]}, "mark": {"type": "point", "shape": "M -1 0 A 1 0.69 0 1 1 1 0 A 1 0.69 0 1 1 -1 0 Z", "size": 2704, "angle": 80, "filled": false, "color": "#C77DC7", "strokeWidth": 0.8, "opacity": 1}},
            {"data": {"name": "pH"}, "mark": {"type": "circle", "size": 12, "opacity": 1},
              "encoding": {"color": {"field": "grp", "type": "nominal", "scale": {"domain": ["CON", "HFD", "HFD-AL", "HFD-BT", "HFD-LC"], "range": ["#EE1C1C", "#1F8A1F", "#1616EE", "#F0801E", "#8E2D8E"]},
                "legend": {"orient": "none", "legendX": 204, "legendY": 46, "symbolType": "square", "symbolSize": 36, "symbolStrokeColor": "#333333", "symbolStrokeWidth": 0.6, "symbolOpacity": 1, "labelFontSize": 5, "labelFontWeight": "bold", "labelColor": "#222222", "labelOffset": 3, "rowPadding": 0, "title": null}}}},
            {"data": {"name": "lblH"}, "transform": [{"filter": "datum.label === 'CON'"}], "mark": {"type": "text", "fontSize": 8, "fontWeight": "bold", "color": "#F03C3C"}, "encoding": {"text": {"field": "label"}}},
            {"data": {"name": "lblH"}, "transform": [{"filter": "datum.label === 'HFD-BT'"}], "mark": {"type": "text", "fontSize": 8, "fontWeight": "bold", "color": "#F0801E"}, "encoding": {"text": {"field": "label"}}},
            {"data": {"name": "lblH"}, "transform": [{"filter": "datum.label === 'HFD-AL'"}], "mark": {"type": "text", "fontSize": 8, "fontWeight": "bold", "color": "#2A2AE8"}, "encoding": {"text": {"field": "label"}}},
            {"data": {"name": "lblH"}, "transform": [{"filter": "datum.label === 'HFD'"}], "mark": {"type": "text", "fontSize": 8, "fontWeight": "bold", "color": "#1F9A1F"}, "encoding": {"text": {"field": "label"}}},
            {"data": {"name": "lblH"}, "transform": [{"filter": "datum.label === 'HFD-LC'"}], "mark": {"type": "text", "fontSize": 8, "fontWeight": "bold", "color": "#9933A0"}, "encoding": {"text": {"field": "label"}}}
          ]
        }
      ]
    }
  ]
}
